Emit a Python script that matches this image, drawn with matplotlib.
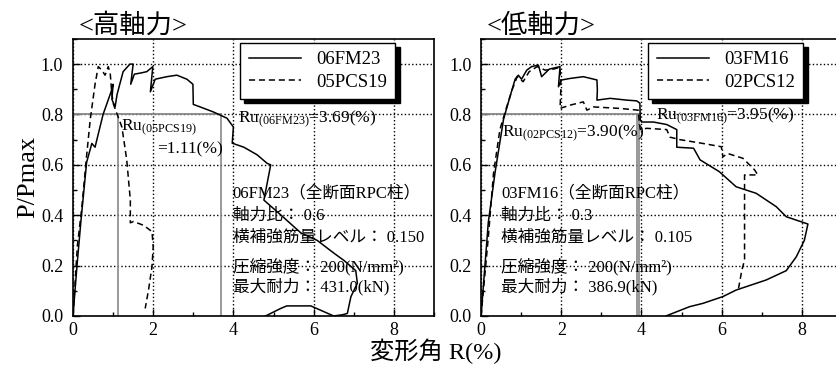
import matplotlib
matplotlib.use("Agg")
import matplotlib.pyplot as plt
from matplotlib.ticker import MultipleLocator, FormatStrFormatter

plt.rcParams['font.family'] = ['Liberation Serif', 'Noto Sans CJK JP']
plt.rcParams['mathtext.fontset'] = 'custom'
plt.rcParams['mathtext.rm'] = 'Liberation Serif'
plt.rcParams['mathtext.it'] = 'Liberation Serif:italic'
plt.rcParams['mathtext.bf'] = 'Liberation Serif:bold'

# ---- high axial force ----
fm23_x = [0, 0.1, 0.2, 0.34, 0.47, 0.55, 0.75, 0.95, 1.0, 0.97, 1.05, 1.1, 1.25, 1.42, 1.5,
          1.44, 1.53, 1.7, 1.84, 1.99, 1.93, 2.05, 2.34, 2.59, 2.84, 2.99, 3.0, 3.17, 3.5,
          3.84, 4.0, 3.97, 4.26, 4.59, 4.84, 4.93, 4.76, 5.26, 5.68, 6.09, 6.5, 6.76, 7.05,
          7.09, 6.93, 6.84, 6.72, 6.5, 5.93, 5.33, 5.18, 4.8]
fm23_y = [0, 0.2, 0.38, 0.61, 0.685, 0.67, 0.80, 0.89, 0.92, 0.86, 0.83, 0.88, 0.97, 1.0, 1.0,
          0.92, 0.96, 0.965, 0.97, 0.99, 0.89, 0.94, 0.95, 0.956, 0.94, 0.92, 0.84, 0.83, 0.81,
          0.785, 0.75, 0.686, 0.67, 0.64, 0.606, 0.60, 0.46, 0.39, 0.33, 0.30, 0.25, 0.22, 0.18,
          0.13, 0.077, 0.01, 0.005, 0.0, 0.04, 0.04, 0.03, 0.0]
pcs19_x = [0, 0.11, 0.22, 0.33, 0.43, 0.55, 0.63, 0.72, 0.8, 0.88, 0.93, 0.97, 1.01, 1.22,
           1.34, 1.43, 1.43, 1.51, 1.76, 1.97, 2.0, 1.97, 1.88, 1.8]
pcs19_y = [0, 0.28, 0.43, 0.62, 0.78, 0.92, 0.99, 0.976, 0.956, 0.99, 0.96, 0.88, 0.84, 0.75,
           0.62, 0.46, 0.37, 0.375, 0.36, 0.335, 0.275, 0.196, 0.10, 0.03]
ru_fm23 = 3.69
ru_pcs19 = 1.11

# ---- low axial force ----
fm16_x = [0, 0.18, 0.35, 0.56, 0.72, 0.85, 0.93, 1.01, 1.14, 1.26, 1.43, 1.51, 1.7, 1.97,
          1.93, 2.01, 2.22, 2.55, 2.89, 2.90, 2.89, 3.22, 3.63, 3.88, 3.96, 3.97, 4.0, 4.3,
          4.63, 4.88, 4.88, 5.3, 5.46, 5.94, 6.36, 6.86, 7.36, 7.61, 8.15, 8.06, 7.86, 7.61,
          7.11, 6.36, 6.03, 5.53, 5.2, 4.61]
fm16_y = [0, 0.37, 0.57, 0.78, 0.87, 0.94, 0.956, 0.94, 0.976, 0.99, 0.996, 0.95, 0.98, 0.99,
          0.91, 0.937, 0.943, 0.95, 0.937, 0.897, 0.857, 0.864, 0.857, 0.854, 0.845, 0.78, 0.77,
          0.77, 0.76, 0.74, 0.67, 0.666, 0.62, 0.573, 0.513, 0.487, 0.434, 0.394, 0.365, 0.30,
          0.235, 0.18, 0.143, 0.103, 0.077, 0.05, 0.037, 0.0]
pcs12_x = [0, 0.18, 0.31, 0.47, 0.62, 0.78, 0.9, 1.05, 1.2, 1.4, 1.6, 1.8, 1.97, 1.99, 1.97,
           2.22, 2.55, 2.64, 2.80, 3.47, 3.92, 3.95, 3.97, 4.13, 4.63, 4.71, 4.96, 5.53, 5.99,
           6.03, 6.15, 6.53, 6.82, 6.9, 6.57, 6.57, 6.5, 6.42]
pcs12_y = [0, 0.31, 0.565, 0.74, 0.82, 0.90, 0.95, 0.93, 0.97, 0.99, 0.976, 0.98, 0.987, 0.90,
           0.824, 0.837, 0.85, 0.817, 0.83, 0.824, 0.817, 0.765, 0.74, 0.745, 0.74, 0.71, 0.70,
           0.685, 0.672, 0.632, 0.645, 0.626, 0.58, 0.56, 0.56, 0.222, 0.18, 0.11]
ru_fm16 = 3.95
ru_pcs12 = 3.90

info_high = ["06FM23（全断面RPC柱）", "軸力比： 0.6", "横補強筋量レベル： 0.150",
             "圧縮強度： 200(N/mm²)", "最大耐力： 431.0(kN)"]
info_low = ["03FM16（全断面RPC柱）", "軸力比： 0.3", "横補強筋量レベル： 0.105",
            "圧縮強度： 200(N/mm²)", "最大耐力： 386.9(kN)"]

DASH = (0, (4, 2.5))


def draw_panel(ax, title, sx, sy, dx, dy, names, ru_solid, ru_dash, info, info_x):
    ax.set_xlim(0, 9)
    ax.set_ylim(0, 1.1)
    ax.xaxis.set_major_locator(MultipleLocator(2))
    ax.xaxis.set_minor_locator(MultipleLocator(1))
    ax.yaxis.set_major_locator(MultipleLocator(0.2))
    ax.yaxis.set_minor_locator(MultipleLocator(0.1))
    ax.yaxis.set_major_formatter(FormatStrFormatter('%.1f'))
    ax.tick_params(which='both', direction='in', labelsize=13, width=1)
    ax.tick_params(which='major', length=5)
    ax.tick_params(which='minor', length=3)
    ax.tick_params(axis='y', pad=7)
    ax.tick_params(axis='x', pad=4)
    for sp in ax.spines.values():
        sp.set_linewidth(1.2)
    ax.grid(True, which='major', color='k', linestyle=':', linewidth=1)

    # Ru reference lines
    ru_max = max(ru_solid, ru_dash)
    ax.plot([0, ru_max], [0.8, 0.8], color='#888888', lw=1.3, zorder=2)
    ax.plot([ru_solid, ru_solid], [0, 0.8], color='#888888', lw=1.2, zorder=2)
    ax.plot([ru_dash, ru_dash], [0, 0.8], color='#888888', lw=1.2, zorder=2)

    ax.plot(sx, sy, color='k', lw=1.1, label=names[0], zorder=3)
    ax.plot(dx, dy, color='k', lw=1.1, linestyle=DASH, label=names[1], zorder=3)

    leg = ax.legend(loc='upper left', bbox_to_anchor=(0.463, 0.987), borderaxespad=0,
                    fontsize=13.5, fancybox=False, edgecolor='k', framealpha=1,
                    shadow={'color': 'k', 'alpha': 1, 'ox': 3, 'oy': -3}, handlelength=2.8,
                    borderpad=0.45, labelspacing=0.3)
    leg.get_frame().set_linewidth(1)

    ys = [0.488, 0.397, 0.31, 0.195, 0.115]
    for t, yy in zip(info, ys):
        ax.text(info_x, yy, t, fontsize=12, va='center', ha='left', zorder=4)

    ax.text(0.015, 1.005, title, transform=ax.transAxes, fontsize=19, va='bottom', ha='left')


fig = plt.figure(figsize=(8.36, 3.67), dpi=100)
ax1 = fig.add_axes([0.0873, 0.139, 0.4318, 0.755])
ax2 = fig.add_axes([0.5754, 0.139, 0.4318, 0.755])

draw_panel(ax1, "<高軸力>", fm23_x, fm23_y, pcs19_x, pcs19_y, ["06FM23", "05PCS19"],
           ru_fm23, ru_pcs19, info_high, 3.98)
ax1.text(4.12, 0.78, r"Ru$_{\mathrm{(06FM23)}}$=3.69(%)", fontsize=12.5, va='center', ha='left')
ax1.text(1.2, 0.746, r"Ru$_{\mathrm{(05PCS19)}}$", fontsize=12.5, va='center', ha='left')
ax1.text(2.1, 0.66, "=1.11(%)", fontsize=12.5, va='center', ha='left')

draw_panel(ax2, "<低軸力>", fm16_x, fm16_y, pcs12_x, pcs12_y, ["03FM16", "02PCS12"],
           ru_fm16, ru_pcs12, info_low, 0.5)
ax2.text(0.52, 0.726, r"Ru$_{\mathrm{(02PCS12)}}$=3.90(%)", fontsize=12.5, va='center', ha='left')
ax2.text(4.36, 0.79, r"Ru$_{\mathrm{(03FM16)}}$=3.95(%)", fontsize=12.5, va='center', ha='left')

fig.text(0.034, 0.517, "P/Pmax", rotation=90, fontsize=19, va='center', ha='center')
fig.text(0.5215, 0.008, "変形角 R(%)", fontsize=17.5, va='bottom', ha='center')

fig.savefig("out.png", dpi=100)
